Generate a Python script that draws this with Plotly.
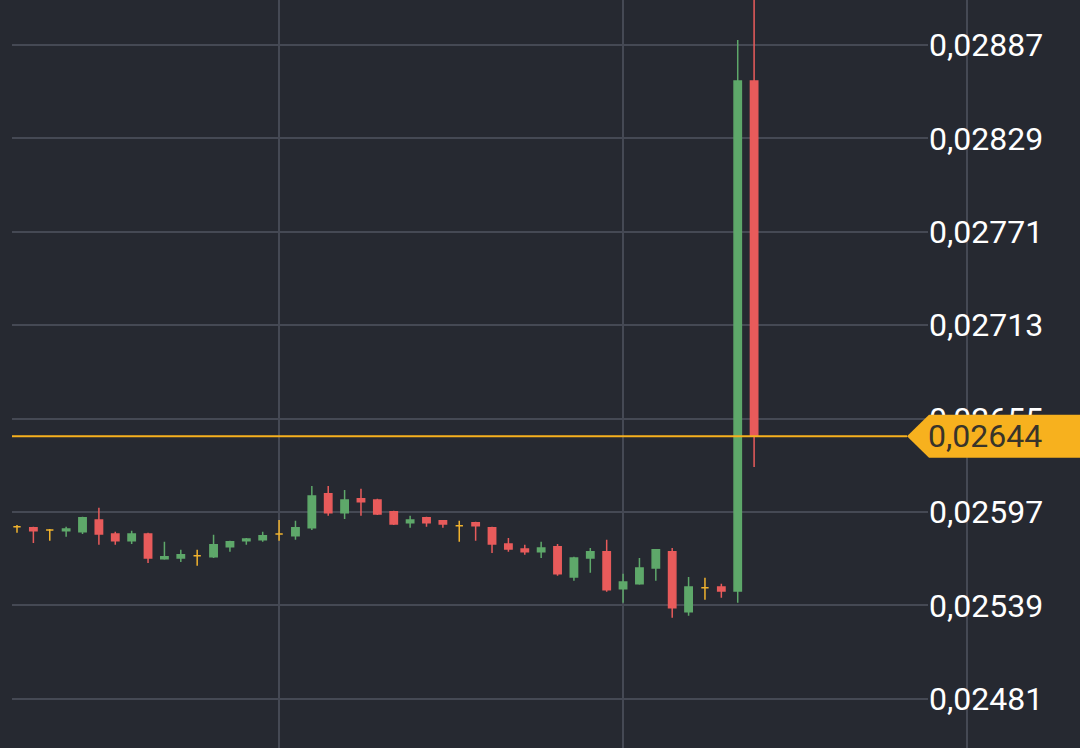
import numpy as np
import plotly.graph_objects as go

# ---- data ----
CANDLE_INDEX = list(range(46))
OPEN = [0.025878, 0.025872, 0.025859, 0.025853, 0.025847, 0.025921, 0.025834, 0.025791,
        0.025834, 0.025679, 0.025685, 0.025698, 0.025692, 0.025754, 0.025791, 0.025797,
        0.025834, 0.025822, 0.025872, 0.026083, 0.025965, 0.026052, 0.026045, 0.025971,
        0.025903, 0.025934, 0.025915, 0.025884, 0.025903, 0.025872, 0.025772, 0.025741,
        0.025723, 0.025754, 0.025567, 0.025685, 0.025723, 0.025493, 0.025524, 0.025623,
        0.025723, 0.025350, 0.025499, 0.025505, 0.025480, 0.028647]
HIGH = [0.025890, 0.025878, 0.025865, 0.025878, 0.025940, 0.025996, 0.025847, 0.025853,
        0.025841, 0.025785, 0.025735, 0.025735, 0.025828, 0.025791, 0.025809, 0.025847,
        0.025921, 0.025915, 0.026132, 0.026132, 0.026107, 0.026114, 0.026052, 0.025977,
        0.025946, 0.025940, 0.025921, 0.025915, 0.025909, 0.025878, 0.025809, 0.025766,
        0.025785, 0.025772, 0.025692, 0.025747, 0.025797, 0.025586, 0.025685, 0.025741,
        0.025747, 0.025567, 0.025561, 0.025524, 0.028901, 0.029250]
LOW = [0.025841, 0.025778, 0.025791, 0.025816, 0.025834, 0.025766, 0.025766, 0.025772,
       0.025654, 0.025673, 0.025660, 0.025636, 0.025685, 0.025723, 0.025766, 0.025785,
       0.025791, 0.025797, 0.025859, 0.025946, 0.025927, 0.025946, 0.025952, 0.025890,
       0.025872, 0.025878, 0.025872, 0.025785, 0.025791, 0.025716, 0.025723, 0.025704,
       0.025685, 0.025574, 0.025543, 0.025592, 0.025474, 0.025406, 0.025518, 0.025543,
       0.025313, 0.025325, 0.025425, 0.025437, 0.025406, 0.026250]
CLOSE = [0.025878, 0.025853, 0.025859, 0.025865, 0.025934, 0.025834, 0.025791, 0.025834,
         0.025685, 0.025692, 0.025704, 0.025698, 0.025766, 0.025785, 0.025803, 0.025822,
         0.025834, 0.025872, 0.026070, 0.025965, 0.026045, 0.026033, 0.025958, 0.025896,
         0.025921, 0.025903, 0.025896, 0.025884, 0.025884, 0.025772, 0.025741, 0.025723,
         0.025747, 0.025586, 0.025685, 0.025723, 0.025487, 0.025536, 0.025623, 0.025735,
         0.025375, 0.025505, 0.025499, 0.025480, 0.028647, 0.02644]
TICK_VALUES = [0.02481, 0.02539, 0.02597, 0.02655, 0.02713, 0.02771, 0.02829, 0.02887]
X_GRID_AT = [16, 37]

# ---- styles ----
BG = "#262931"
GRID = "#454954"
GREEN = "#5ea86a"
RED = "#e85b5b"
DOJI = "#f0b22e"
PRICE = "#f7b11e"
FONT = "Roboto, 'Noto Sans', sans-serif"

W, H = 1080, 748
X0_PX, X1_PX = 12, 928
STEP_PX = 16.38
FIRST_PX = 17
Y_TOP, Y_BOT = 0.0291494, 0.0245045

o = np.array(OPEN); h = np.array(HIGH); l = np.array(LOW); c = np.array(CLOSE)
x = np.array(CANDLE_INDEX)
groups = [(c > o, GREEN), (c < o, RED), (c == o, DOJI)]

fig = go.Figure()
for mask, col in groups:
    fig.add_trace(go.Candlestick(
        x=x[mask], open=o[mask], high=h[mask], low=l[mask], close=c[mask],
        increasing=dict(line=dict(color=col, width=1.5), fillcolor=col),
        decreasing=dict(line=dict(color=col, width=1.5), fillcolor=col),
        whiskerwidth=0, showlegend=False, hoverinfo="skip",
    ))

last = CLOSE[-1]
last_txt = f"{last:.5f}".replace(".", ",")

xr = [(X0_PX - FIRST_PX) / STEP_PX, (X1_PX - FIRST_PX) / STEP_PX]

fig.update_layout(
    width=W, height=H, autosize=False,
    margin=dict(l=0, r=0, t=0, b=0, pad=0),
    paper_bgcolor=BG, plot_bgcolor=BG,
    separators=", ",
    boxgap=0.36,
    font=dict(family=FONT, color="#ffffff", size=32),
    xaxis=dict(domain=[X0_PX / W, X1_PX / W], range=xr, rangeslider=dict(visible=False),
               tickvals=X_GRID_AT, showticklabels=False, showgrid=True, gridcolor=GRID,
               gridwidth=2, zeroline=False, showline=False, ticks=""),
    yaxis=dict(side="right", range=[Y_BOT, Y_TOP], tickvals=TICK_VALUES, tickformat=".5f",
               showgrid=True, gridcolor=GRID, gridwidth=2, zeroline=False, showline=False,
               ticks="", tickfont=dict(family=FONT, size=32, color="#ffffff")),
    shapes=[
        dict(type="line", xref="paper", yref="paper", x0=967 / W, x1=967 / W, y0=0, y1=1,
             line=dict(color=GRID, width=2), layer="below"),
        dict(type="line", xref="paper", yref="y", x0=X0_PX / W, x1=907 / W, y0=last, y1=last,
             line=dict(color=PRICE, width=2), layer="above"),
        dict(type="path", xref="paper", yref="y", ysizemode="pixel", yanchor=last,
             path=f"M {907 / W},0 L {929 / W},21.5 L 1,21.5 L 1,-21.5 L {929 / W},-21.5 Z",
             fillcolor=PRICE, line=dict(width=0), layer="above"),
    ],
    annotations=[
        dict(xref="paper", yref="y", x=926 / W, y=last, xanchor="left", yanchor="middle",
             text=last_txt, showarrow=False,
             font=dict(family=FONT, size=32, color="#38342a")),
    ],
)

fig.write_html(
    "out.html",
    config=dict(displayModeBar=False),
    post_script="document.body.style.margin='0';document.body.style.padding='0';"
                "document.body.style.background='" + BG + "';",
)
